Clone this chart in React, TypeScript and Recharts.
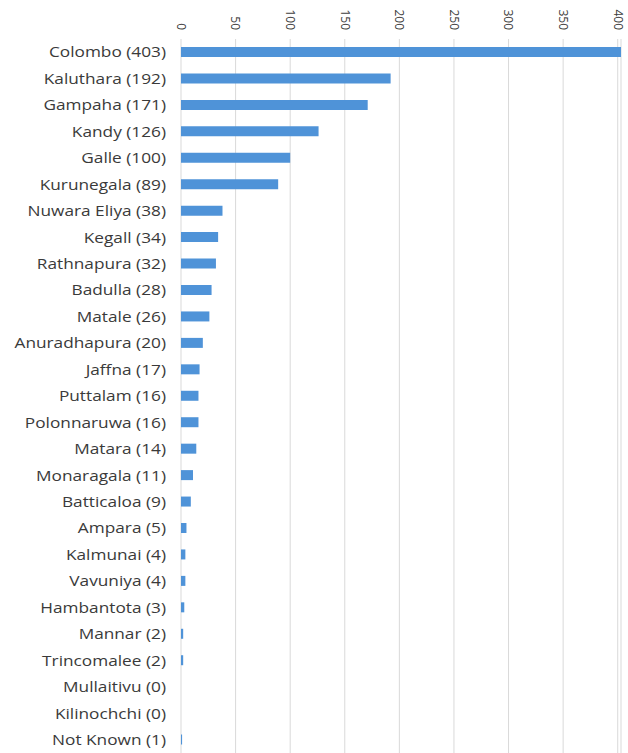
import { BarChart, Bar, XAxis, YAxis, CartesianGrid } from "recharts";

const districts = [
  "Colombo",
  "Kaluthara",
  "Gampaha",
  "Kandy",
  "Galle",
  "Kurunegala",
  "Nuwara Eliya",
  "Kegall",
  "Rathnapura",
  "Badulla",
  "Matale",
  "Anuradhapura",
  "Jaffna",
  "Puttalam",
  "Polonnaruwa",
  "Matara",
  "Monaragala",
  "Batticaloa",
  "Ampara",
  "Kalmunai",
  "Vavuniya",
  "Hambantota",
  "Mannar",
  "Trincomalee",
  "Mullaitivu",
  "Kilinochchi",
  "Not Known",
];

const cases = [
  403, 192, 171, 126, 100, 89, 38, 34, 32, 28, 26, 20, 17, 16, 16, 14, 11, 9,
  5, 4, 4, 3, 2, 2, 0, 0, 1,
];

const xTicks = [0, 50, 100, 150, 200, 250, 300, 350, 400];

const data = districts.map((d, i) => ({
  label: `${d} (${cases[i]})`,
  value: cases[i],
}));

function TopTick(props: any) {
  const { x, payload } = props;
  return (
    <text
      transform={`translate(${x},30) rotate(90)`}
      textAnchor="end"
      dy="0.35em"
      fontSize={12}
      fill="#404040"
      fontFamily="'Open Sans', sans-serif"
    >
      {payload.value}
    </text>
  );
}

// labels in the original are a bit wide, so stretch them horizontally
function SideTick(props: any) {
  const { x, y, payload } = props;
  return (
    <text
      transform={`translate(${x},${y}) scale(1.15,1)`}
      textAnchor="end"
      dy="0.35em"
      fontSize={15}
      fill="#3a3a3a"
      fontFamily="'Open Sans', sans-serif"
    >
      {payload.value}
    </text>
  );
}

export default function App() {
  return (
    <div style={{ position: "absolute", left: 0, top: 0, width: 628, height: 753, background: "#fff" }}>
      <BarChart
        width={628}
        height={753}
        data={data}
        layout="vertical"
        margin={{ top: 0, right: 7, left: 0, bottom: 0 }}
        barCategoryGap={0}
      >
        <CartesianGrid vertical horizontal={false} stroke="#d9d9d9" />
        <XAxis
          type="number"
          orientation="top"
          domain={[0, 403]}
          ticks={xTicks}
          height={39}
          axisLine={false}
          tickLine={false}
          tick={<TopTick />}
          interval={0}
        />
        <YAxis
          type="category"
          dataKey="label"
          width={181}
          axisLine={false}
          tickLine={false}
          tickMargin={9}
          interval={0}
          tick={<SideTick />}
        />
        <Bar dataKey="value" fill="#4f93d8" barSize={10} isAnimationActive={false} />
      </BarChart>
    </div>
  );
}
